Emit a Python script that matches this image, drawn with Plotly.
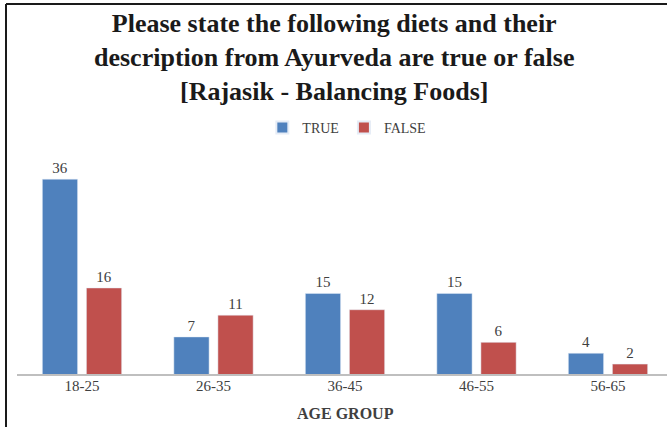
import plotly.graph_objects as go

categories = ["18-25", "26-35", "36-45", "46-55", "56-65"]
true_vals = [36, 7, 15, 15, 4]
false_vals = [16, 11, 12, 6, 2]
title_text = "Please state the following diets and their<br>description from Ayurveda are true or false<br>[Rajasik - Balancing Foods]"
x_title = "AGE GROUP"

W, H = 667, 427
ML, MR, MT, MB = 6, 0, 4, 52
PW = W - ML - MR
PH = H - MT - MB
CAT_PX = 131.5      # pixel spacing between categories
FIRST_CENTER = 82   # pixel x of the first category centre
PX_PER_UNIT = 5.44

serif = "Liberation Serif"
label_font = dict(family=serif, size=15, color="#404040")

fig = go.Figure()
fig.add_trace(go.Bar(name="TRUE", x=categories, y=true_vals, marker_color="#4F81BD",
                     text=true_vals, textposition="outside", textfont=label_font,
                     cliponaxis=False))
fig.add_trace(go.Bar(name="FALSE", x=categories, y=false_vals, marker_color="#C0504D",
                     text=false_vals, textposition="outside", textfont=label_font,
                     cliponaxis=False))

def px_x(p):
    return (p - ML) / PW

def px_y(p):
    return (H - MB - p) / PH

fig.add_annotation(text=title_text, xref="paper", yref="paper",
                   x=px_x(W / 2), y=px_y(7), xanchor="center", yanchor="top",
                   showarrow=False, align="center",
                   font=dict(family=serif, size=26, color="#1a1a1a", weight="bold"))

fig.add_annotation(text=x_title, xref="paper", yref="paper",
                   x=px_x(345), y=px_y(413), xanchor="center", yanchor="middle",
                   showarrow=False,
                   font=dict(family=serif, size=16, color="#404040", weight="bold"))

x0 = -(FIRST_CENTER - ML) / CAT_PX
x1 = x0 + PW / CAT_PX

fig.update_layout(
    width=W, height=H,
    margin=dict(l=ML, r=MR, t=MT, b=MB, autoexpand=False),
    paper_bgcolor="white", plot_bgcolor="white",
    barmode="group", bargap=0.33, bargroupgap=0.2,
    legend=dict(orientation="h", x=0.52, xref="container", xanchor="center",
                y=1 - 112 / H, yref="container", yanchor="top",
                font=dict(family=serif, size=14, color="#404040"),
                itemwidth=30, itemsizing="constant"),
    showlegend=True,
    xaxis=dict(range=[x0, x1], showline=False,
               ticks="", tickfont=dict(family=serif, size=15, color="#404040"),
               automargin=False,
               showgrid=False, zeroline=False, fixedrange=True),
    yaxis=dict(range=[0, PH / PX_PER_UNIT], visible=False, fixedrange=True, automargin=False),
    shapes=[
        # baseline axis line
        dict(type="line", xref="paper", yref="paper", x0=px_x(17), x1=1, y0=0, y1=0,
             line=dict(color="#BFBFBF", width=2), layer="above"),
        # chart border (top and left)
        dict(type="line", xref="paper", yref="paper", x0=0, x1=1, y0=1, y1=1,
             line=dict(color="#1a1a1a", width=2), layer="above"),
        dict(type="line", xref="paper", yref="paper", x0=0, x1=0, y0=px_y(430), y1=1,
             line=dict(color="#1a1a1a", width=2), layer="above"),
    ],
)

fig.write_html("out.html", config={"displayModeBar": False},
               post_script="document.body.style.margin='0';")
